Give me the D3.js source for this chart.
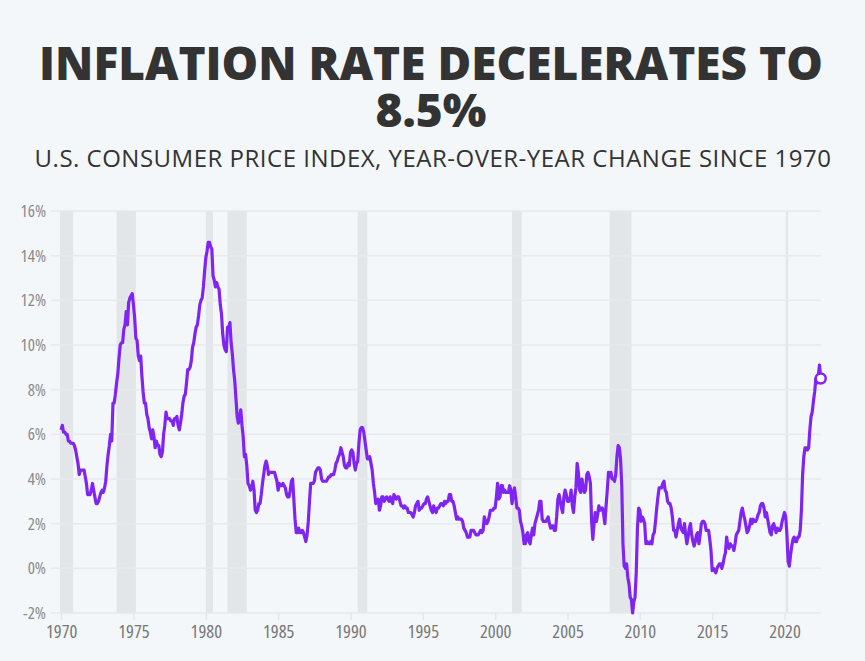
<!DOCTYPE html>
<html>
<head>
<meta charset="utf-8">
<script src="https://cdn.jsdelivr.net/npm/d3@7"></script>
<style>
  html, body { margin: 0; padding: 0; background: #f4f7fa; }
  svg { display: block; }
</style>
</head>
<body>
<svg id="chart" width="865" height="661"></svg>
<script>
// ---- Data ----
const titleLines = ["INFLATION RATE DECELERATES TO", "8.5%"];
const subtitle = "U.S. CONSUMER PRICE INDEX, YEAR-OVER-YEAR CHANGE SINCE 1970";
const startYear = 1970;
// Monthly CPI-U year-over-year change (%), Jan 1970 – Jul 2022
const cpiYoY = [
  6.2, 6.4, 6.1, 6.1, 6.0, 6.0, 5.7, 5.7, 5.6, 5.6, 5.6, 5.5, // 1970
  5.3, 5.0, 4.7, 4.2, 4.4, 4.4, 4.4, 4.4, 4.1, 3.8, 3.3, 3.3, // 1971
  3.3, 3.5, 3.8, 3.5, 3.2, 2.9, 2.9, 3.0, 3.2, 3.4, 3.5, 3.4, // 1972
  3.6, 3.9, 4.6, 5.1, 5.5, 6.0, 5.7, 7.4, 7.4, 7.8, 8.3, 8.7, // 1973
  9.4, 10.0, 10.1, 10.1, 10.7, 10.9, 11.5, 10.9, 11.9, 12.1, 12.2, 12.3, // 1974
  11.8, 11.2, 10.3, 10.2, 9.5, 9.3, 9.5, 8.6, 7.9, 7.4, 7.4, 6.9, // 1975
  6.7, 6.3, 6.1, 5.8, 6.2, 5.9, 5.4, 5.7, 5.5, 5.5, 5.1, 5.0, // 1976
  5.2, 6.0, 6.4, 7.0, 6.7, 6.7, 6.7, 6.6, 6.6, 6.4, 6.7, 6.7, // 1977
  6.8, 6.4, 6.2, 6.5, 6.9, 7.4, 7.7, 7.8, 8.3, 8.9, 8.9, 9.0, // 1978
  9.3, 9.9, 10.1, 10.5, 10.8, 10.9, 11.3, 11.8, 12.0, 12.1, 12.6, 13.3, // 1979
  13.9, 14.2, 14.6, 14.6, 14.4, 14.3, 13.1, 12.9, 12.6, 12.8, 12.6, 12.5, // 1980
  11.8, 11.4, 10.5, 10.0, 9.8, 9.7, 10.8, 10.8, 11.0, 10.1, 9.6, 8.9, // 1981
  8.4, 7.6, 6.8, 6.5, 6.7, 7.1, 6.4, 5.9, 5.0, 5.1, 4.6, 3.8, // 1982
  3.7, 3.5, 3.6, 3.9, 3.5, 2.6, 2.5, 2.6, 2.9, 2.9, 3.3, 3.8, // 1983
  4.2, 4.6, 4.8, 4.6, 4.2, 4.3, 4.3, 4.3, 4.3, 4.3, 4.1, 3.9, // 1984
  3.5, 3.8, 3.7, 3.7, 3.8, 3.7, 3.6, 3.3, 3.2, 3.2, 3.5, 3.9, // 1985
  4.0, 3.1, 2.2, 1.6, 1.6, 1.8, 1.6, 1.6, 1.7, 1.6, 1.4, 1.2, // 1986
  1.5, 2.1, 3.0, 3.8, 3.8, 3.8, 3.9, 4.3, 4.4, 4.5, 4.5, 4.4, // 1987
  4.0, 3.9, 3.9, 3.9, 3.9, 4.0, 4.1, 4.1, 4.2, 4.2, 4.2, 4.4, // 1988
  4.7, 4.8, 5.0, 5.1, 5.4, 5.2, 5.0, 4.6, 4.5, 4.5, 4.7, 4.6, // 1989
  5.2, 5.3, 5.2, 4.7, 4.4, 4.7, 4.8, 5.6, 6.2, 6.3, 6.3, 6.1, // 1990
  5.7, 5.3, 4.9, 4.9, 5.0, 4.7, 4.4, 3.8, 3.4, 2.9, 3.0, 3.1, // 1991
  2.6, 2.8, 3.2, 3.2, 3.0, 3.1, 3.2, 3.1, 3.0, 3.2, 3.0, 2.9, // 1992
  3.3, 3.2, 3.1, 3.2, 3.2, 3.0, 2.8, 2.8, 2.7, 2.8, 2.7, 2.7, // 1993
  2.5, 2.5, 2.5, 2.4, 2.3, 2.5, 2.8, 2.9, 3.0, 2.6, 2.7, 2.7, // 1994
  2.8, 2.9, 2.9, 3.1, 3.2, 3.0, 2.8, 2.6, 2.5, 2.8, 2.6, 2.5, // 1995
  2.7, 2.7, 2.8, 2.9, 2.9, 2.8, 3.0, 2.9, 3.0, 3.0, 3.3, 3.3, // 1996
  3.0, 3.0, 2.8, 2.5, 2.2, 2.3, 2.2, 2.2, 2.2, 2.1, 1.8, 1.7, // 1997
  1.6, 1.4, 1.4, 1.4, 1.7, 1.7, 1.7, 1.6, 1.5, 1.5, 1.5, 1.6, // 1998
  1.7, 1.6, 1.7, 2.3, 2.1, 2.0, 2.1, 2.3, 2.6, 2.6, 2.6, 2.7, // 1999
  2.7, 3.2, 3.8, 3.1, 3.2, 3.7, 3.7, 3.4, 3.5, 3.4, 3.4, 3.4, // 2000
  3.7, 3.5, 2.9, 3.3, 3.6, 3.2, 2.7, 2.7, 2.6, 2.1, 1.9, 1.6, // 2001
  1.1, 1.1, 1.5, 1.6, 1.2, 1.1, 1.5, 1.8, 1.5, 2.0, 2.2, 2.4, // 2002
  2.6, 3.0, 3.0, 2.2, 2.1, 2.1, 2.1, 2.2, 2.3, 2.0, 1.8, 1.9, // 2003
  1.9, 1.7, 1.7, 2.3, 3.1, 3.3, 3.0, 2.7, 2.5, 3.2, 3.5, 3.3, // 2004
  3.0, 3.0, 3.1, 3.5, 2.8, 2.5, 3.2, 3.6, 4.7, 4.3, 3.5, 3.4, // 2005
  4.0, 3.6, 3.4, 3.5, 4.2, 4.3, 4.1, 3.8, 2.1, 1.3, 2.0, 2.5, // 2006
  2.1, 2.4, 2.8, 2.6, 2.7, 2.7, 2.4, 2.0, 2.8, 3.5, 4.3, 4.1, // 2007
  4.3, 4.0, 4.0, 3.9, 4.2, 5.0, 5.5, 5.4, 4.9, 3.7, 1.1, 0.1, // 2008
  0.0, 0.2, -0.4, -0.7, -1.3, -1.4, -2.0, -1.5, -1.3, -0.2, 1.8, 2.7, // 2009
  2.6, 2.1, 2.3, 2.2, 2.0, 1.1, 1.2, 1.1, 1.1, 1.2, 1.1, 1.5, // 2010
  1.6, 2.1, 2.7, 3.2, 3.6, 3.6, 3.6, 3.8, 3.9, 3.5, 3.4, 3.0, // 2011
  2.9, 2.9, 2.7, 2.3, 1.7, 1.7, 1.4, 1.7, 2.0, 2.2, 1.8, 1.7, // 2012
  1.6, 2.0, 1.5, 1.1, 1.4, 1.8, 2.0, 1.5, 1.2, 1.0, 1.2, 1.5, // 2013
  1.6, 1.1, 1.5, 2.0, 2.1, 2.1, 2.0, 1.7, 1.7, 1.7, 1.3, 0.8, // 2014
  -0.1, 0.0, -0.1, -0.2, 0.0, 0.1, 0.2, 0.2, 0.0, 0.2, 0.5, 0.7, // 2015
  1.4, 1.0, 0.9, 1.1, 1.0, 1.0, 0.8, 1.1, 1.5, 1.6, 1.7, 2.1, // 2016
  2.5, 2.7, 2.4, 2.2, 1.9, 1.6, 1.7, 1.9, 2.2, 2.0, 2.2, 2.1, // 2017
  2.1, 2.2, 2.4, 2.5, 2.8, 2.9, 2.9, 2.7, 2.3, 2.5, 2.2, 1.9, // 2018
  1.6, 1.5, 1.9, 2.0, 1.8, 1.6, 1.8, 1.7, 1.7, 1.8, 2.1, 2.3, // 2019
  2.5, 2.3, 1.5, 0.3, 0.1, 0.6, 1.0, 1.3, 1.4, 1.2, 1.2, 1.4, // 2020
  1.4, 1.7, 2.6, 4.2, 5.0, 5.4, 5.4, 5.3, 5.4, 6.2, 6.8, 7.0, // 2021
  7.5, 7.9, 8.5, 8.3, 8.6, 9.1, 8.5                           // 2022
];
// NBER recessions [start, end] as decimal years
const recessionStarts = [1969 + 11/12, 1973 + 10/12, 1980 + 0/12, 1981 + 6/12, 1990 + 6/12, 2001 + 2/12, 2007 + 11/12, 2020 + 1/12];
const recessionEnds   = [1970 + 10/12, 1975 + 2/12, 1980 + 6/12, 1982 + 10/12, 1991 + 2/12, 2001 + 10/12, 2009 + 5/12, 2020 + 3/12];
const yTickValues = [-2, 0, 2, 4, 6, 8, 10, 12, 14, 16];
const xTickValues = [1970, 1975, 1980, 1985, 1990, 1995, 2000, 2005, 2010, 2015, 2020];

// ---- Chart ----
const svg = d3.select("#chart");
const W = 865, H = 661;
svg.append("rect").attr("width", W).attr("height", H).attr("fill", "#f4f7fa");

const series = cpiYoY.map((v, i) => ({ t: startYear + i / 12, v }));

const x = d3.scaleLinear().domain([1969.3, 2022.5]).range([51, 820.7]);
const y = d3.scaleLinear().domain([-2, 16]).range([613, 211]);

// Title (one text element, wrapped into two lines)
const title = svg.append("g").attr("font-family", "'Open Sans', sans-serif")
  .attr("text-anchor", "middle").attr("fill", "#333");
const titleText = title.append("text")
  .attr("font-size", 46).attr("font-weight", 800);
titleText.selectAll("tspan").data(titleLines).join("tspan")
  .attr("x", 431)
  .attr("y", (d, i) => 80 + i * 47)
  .text(d => d);
title.append("text")
  .attr("x", 433).attr("y", 167)
  .attr("font-size", 24).attr("font-weight", 400)
  .attr("letter-spacing", 0.5)
  .text(subtitle);

// Recession bars
svg.append("g").selectAll("rect").data(d3.range(recessionStarts.length)).join("rect")
  .attr("x", i => x(recessionStarts[i]))
  .attr("width", i => Math.max(1.5, x(recessionEnds[i]) - x(recessionStarts[i])))
  .attr("y", y(16))
  .attr("height", y(-2) - y(16))
  .attr("fill", "#e3e6e8");

// Gridlines
svg.append("g").selectAll("line").data(yTickValues).join("line")
  .attr("x1", x.range()[0]).attr("x2", x.range()[1])
  .attr("y1", d => y(d)).attr("y2", d => y(d))
  .attr("stroke", "#e9e9ea").attr("stroke-width", 1.5);

// Y axis labels
const yAxis = d3.axisLeft(y).tickValues(yTickValues).tickSize(0).tickPadding(0)
  .tickFormat(d => d + "%");
const gy = svg.append("g").attr("transform", "translate(46,0)").call(yAxis);
gy.select(".domain").remove();
gy.selectAll("text")
  .attr("font-family", "'Open Sans', sans-serif")
  .style("font-stretch", "75%")
  .attr("font-size", 17).attr("fill", "#8a8a8a");

// X axis
const xAxis = d3.axisBottom(x).tickValues(xTickValues).tickSize(7).tickPadding(5)
  .tickFormat(d3.format("d"));
const gx = svg.append("g").attr("transform", `translate(0,${y(-2)})`).call(xAxis);
gx.select(".domain").remove();
gx.selectAll("line").attr("stroke", "#e6e6e6").attr("stroke-width", 1.5);
gx.selectAll("text")
  .attr("font-family", "'Open Sans', sans-serif")
  .style("font-stretch", "75%")
  .attr("font-size", 18.5).attr("fill", "#777");

// Line
const line = d3.line().x(d => x(d.t)).y(d => y(d.v));
svg.append("path").datum(series)
  .attr("d", line)
  .attr("fill", "none")
  .attr("stroke", "#8024f2")
  .attr("stroke-width", 3.2)
  .attr("stroke-linejoin", "round");

// Last point marker
const last = series[series.length - 1];
svg.append("circle")
  .attr("cx", x(last.t)).attr("cy", y(last.v)).attr("r", 5)
  .attr("fill", "#fff").attr("stroke", "#8024f2").attr("stroke-width", 2.5);
</script>
</body>
</html>
